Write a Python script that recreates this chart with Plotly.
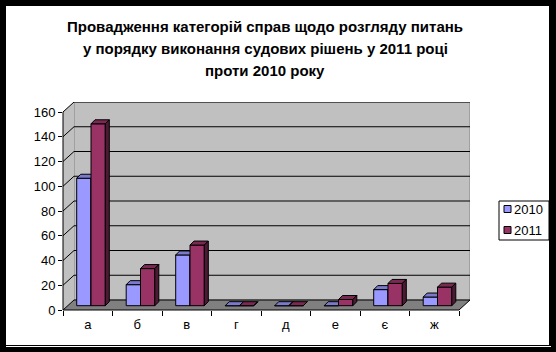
import plotly.graph_objects as go

# ---------------- data ----------------
categories = ["а", "б", "в", "г", "д", "е", "є", "ж"]
series_names = ["2010", "2011"]
values_2010 = [103, 17, 41, 0, 0, 0, 13, 7]
values_2011 = [147, 30, 49, 0, 0, 5, 18, 15]
y_ticks = [0, 20, 40, 60, 80, 100, 120, 140, 160]
title_lines = [
    "Провадження категорій справ щодо розгляду питань",
    "у порядку виконання судових рішень у 2011 році",
    "проти 2010 року",
]

# ---------------- geometry / style ----------------
W, H = 556, 352
L, R, T, B = 63, 86, 102, 42
PW = W - L - R
PH = H - T - B
CAT_PX = 49.5          # pixels per category
Y_PX = 1.2375          # pixels per value unit
n = len(categories)

x_min = -0.5
x_max = x_min + PW / CAT_PX
y_max = PH / Y_PX

back_dx = 11 / CAT_PX
back_dy = 10 / Y_PX
bar_shift = 3.25 / CAT_PX
bar_base = 4.3 / Y_PX
bar_ddx = 4 / CAT_PX
bar_ddy = 4 / Y_PX
bar_w = 14.3 / CAT_PX

FONT = "Liberation Sans, Arial, sans-serif"
colors = {
    "2010": ("#9999FF", "#7a7acc", "#4d4d80"),
    "2011": ("#993366", "#7a2952", "#4d1a33"),
}


def xp(px):
    return (px - L) / PW


def yp(py):
    return (H - B - py) / PH


fig = go.Figure()


def faces(vals, offset_sign):
    fx, fy, tx, ty, sx, sy = [], [], [], [], [], []
    for i, v in enumerate(vals):
        if offset_sign < 0:
            x0 = i - bar_w + bar_shift
        else:
            x0 = i + bar_shift
        x1 = x0 + bar_w
        b0 = bar_base
        t0 = bar_base + v
        fx += [x0, x1, x1, x0, x0, None]
        fy += [b0, b0, t0, t0, b0, None]
        tx += [x0, x1, x1 + bar_ddx, x0 + bar_ddx, x0, None]
        ty += [t0, t0, t0 + bar_ddy, t0 + bar_ddy, t0, None]
        sx += [x1, x1 + bar_ddx, x1 + bar_ddx, x1, x1, None]
        sy += [b0, b0 + bar_ddy, t0 + bar_ddy, t0, b0, None]
    return (fx, fy), (tx, ty), (sx, sy)


for name, vals, sign in [("2010", values_2010, -1), ("2011", values_2011, 1)]:
    front, top, side = faces(vals, sign)
    cf, ct, cs = colors[name]
    for (xs, ys), col in [(front, cf), (top, ct), (side, cs)]:
        fig.add_trace(go.Scatter(
            x=xs, y=ys, mode="lines", fill="toself", fillcolor=col,
            line=dict(color="black", width=1), showlegend=False,
            hoverinfo="skip", name=name,
        ))

shapes = []
# frame
shapes.append(dict(type="rect", xref="paper", yref="paper", x0=xp(6), x1=xp(549),
                   y0=yp(345), y1=yp(6), fillcolor="white", line=dict(width=0), layer="below"))
shapes.append(dict(type="line", xref="paper", yref="paper", x0=xp(6), x1=xp(551),
                   y0=yp(346.5), y1=yp(346.5), line=dict(color="white", width=1), layer="below"))
# back wall
xb = x_min + back_dx
shapes.append(dict(type="rect", x0=xb, x1=x_max, y0=back_dy, y1=y_max,
                   fillcolor="#C0C0C0", line=dict(color="#808080", width=1), layer="below"))
# left side wall
shapes.append(dict(type="path",
                   path=f"M {x_min},0 L {xb},{back_dy} L {xb},{y_max} L {x_min},{y_ticks[-1]} Z",
                   fillcolor="#C0C0C0", line=dict(width=0), layer="below"))
# floor
x_end = n - 0.5
shapes.append(dict(type="path",
                   path=f"M {x_min},0 L {x_end},0 L {x_max},{back_dy} L {xb},{back_dy} Z",
                   fillcolor="#808080", line=dict(width=0), layer="below"))
# gridlines
for v in y_ticks:
    shapes.append(dict(type="line", x0=xb, x1=x_max, y0=v + back_dy, y1=v + back_dy,
                       line=dict(color="black", width=1), layer="below"))
    shapes.append(dict(type="line", x0=x_min, x1=xb, y0=v, y1=v + back_dy,
                       line=dict(color="black", width=1), layer="below"))
# floor right diagonal
shapes.append(dict(type="line", x0=x_end, x1=x_max, y0=0, y1=back_dy,
                   line=dict(color="black", width=1), layer="below"))
# axis lines (front)
shapes.append(dict(type="line", xref="paper", yref="paper", x0=0, x1=(x_end - x_min) / (x_max - x_min),
                   y0=0, y1=0, line=dict(color="black", width=1)))
shapes.append(dict(type="line", xref="paper", yref="paper", x0=0, x1=0,
                   y0=0, y1=y_ticks[-1] / y_max, line=dict(color="black", width=1)))

# legend (manual)
shapes.append(dict(type="rect", xref="paper", yref="paper", x0=xp(499), x1=xp(549),
                   y0=yp(240), y1=yp(201), fillcolor="white", line=dict(color="black", width=1)))
leg_y = [209, 230]
annotations = []
for name, cy in zip(series_names, leg_y):
    shapes.append(dict(type="rect", xref="paper", yref="paper", x0=xp(504), x1=xp(511),
                       y0=yp(cy + 3.5), y1=yp(cy - 3.5), fillcolor=colors[name][0],
                       line=dict(color="black", width=1)))
    annotations.append(dict(xref="paper", yref="paper", x=xp(512), y=yp(cy), text=name,
                            showarrow=False, xanchor="left", yanchor="middle",
                            font=dict(family=FONT, size=13, color="black")))

for line, cy in zip(title_lines, [27, 48.5, 70]):
    annotations.append(dict(xref="paper", yref="paper", x=xp(265), y=yp(cy), text=f"<b>{line}</b>",
                            showarrow=False, xanchor="center", yanchor="middle",
                            font=dict(family=FONT, size=15, color="black")))

fig.update_layout(
    width=W, height=H,
    margin=dict(l=L, r=R, t=T, b=B, pad=0),
    paper_bgcolor="black",
    plot_bgcolor="rgba(0,0,0,0)",
    showlegend=False,
    shapes=shapes,
    annotations=annotations,
    font=dict(family=FONT, size=13, color="black"),
    xaxis=dict(
        range=[x_min, x_max], tickvals=list(range(n)), ticktext=categories,
        ticks="", showgrid=False, zeroline=False, showline=False,
        ticklabelstandoff=5,
        tickfont=dict(family=FONT, size=13, color="black"),
        minor=dict(tickvals=[i - 0.5 for i in range(n + 1)], ticks="outside",
                   ticklen=5, tickcolor="black", tickwidth=1, showgrid=False),
        fixedrange=True,
    ),
    yaxis=dict(
        range=[0, y_max], tickvals=y_ticks, ticks="outside", ticklen=4,
        tickcolor="black", showgrid=False, zeroline=False, showline=False,
        tickfont=dict(family=FONT, size=13, color="black"),
        fixedrange=True,
    ),
)

fig.write_html("out.html")
